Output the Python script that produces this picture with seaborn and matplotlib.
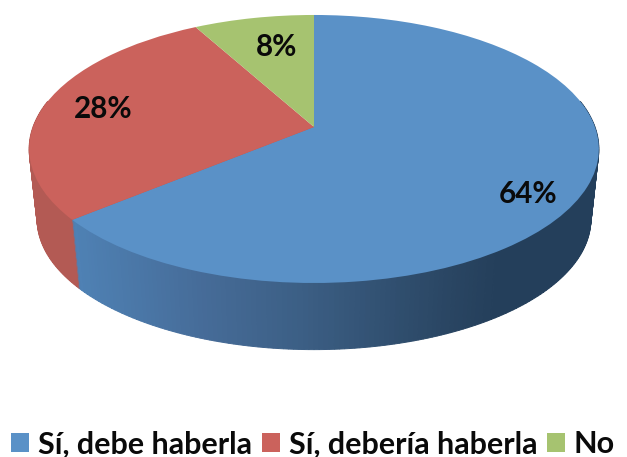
import numpy as np
import matplotlib
matplotlib.use("Agg")
import matplotlib.pyplot as plt
from matplotlib.colors import to_rgb
from matplotlib.transforms import Transform
import seaborn as sns

categories = ["Sí, debe haberla", "Sí, debería haberla", "No"]
shares = [64, 28, 8]
pct_labels = ["64%", "28%", "8%"]
top_colors = ["#5a91c7", "#cb625c", "#a6c370"]

# shading of the rim, going left to right in pixels
rim_x = [70, 200, 300, 450, 500]
rim_blue = ["#4f82b5", "#466c99", "#3c5f85", "#2a4663", "#243f5b"]
rim_red = ["#b35a54", "#b85d56", "#b85d56", "#b85d56", "#b85d56"]
rim_green = ["#8aa35c"] * 5
rim_colors = [rim_blue, rim_red, rim_green]

sns.set_style("white")
plt.rcParams["font.family"] = ["Lato", "DejaVu Sans"]
plt.rcParams["font.weight"] = "bold"


class Tilt(Transform):
    # flat unit circle to a tilted disc in pixels, far side smaller
    input_dims = 2
    output_dims = 2
    is_affine = False

    def __init__(self, depth=0.0):
        super().__init__()
        self.scale = 1 - 0.028 * depth
        self.cy = 127 + 71 * depth

    def transform_non_affine(self, values):
        values = np.asarray(values, dtype=float)
        w = 1 + 0.164 * values[:, 1]
        px = 314 + 281 * self.scale * values[:, 0] / w
        py = self.cy - 130.4 * self.scale * values[:, 1] / w
        return np.column_stack([px, py])


fig = plt.figure(figsize=(6.27, 4.57), dpi=100)
ax = fig.add_axes([0, 0, 1, 1])

# rim: thin slices of the same shares, stacked from the bottom up
fine_values = []
fine_colors = []
fine_mid = []
start = 0.0
total = sum(shares)
for share, stops in zip(shares, rim_colors):
    n = max(6, int(share * 4))
    rgb = np.array([to_rgb(c) for c in stops])
    for i in range(n):
        frac = (start + share * (i + 0.5) / n) / total
        angle = np.pi / 2 - 2 * np.pi * frac
        x, y = np.cos(angle), np.sin(angle)
        px = 314 + 281 * x / (1 + 0.164 * y)
        fine_values.append(share / n)
        fine_colors.append([np.interp(px, rim_x, rgb[:, k]) for k in range(3)])
        fine_mid.append(y)
    start += share

for depth in np.linspace(1, 0, 60):
    tilt = Tilt(depth)
    parts = ax.pie(fine_values, colors=fine_colors, startangle=90, counterclock=False,
                   wedgeprops={"linewidth": 0.7})[0]
    for wedge, mid, col in zip(parts, fine_mid, fine_colors):
        wedge.set_transform(tilt + ax.transData)
        wedge.set_edgecolor(col)
        if mid > 0.2:
            wedge.set_visible(False)

top = ax.pie(shares, colors=top_colors, startangle=90, counterclock=False,
             wedgeprops={"linewidth": 0})[0]
for wedge in top:
    wedge.set_transform(Tilt(0) + ax.transData)

ax.set_aspect("auto")
ax.set_xlim(0, 627)
ax.set_ylim(457, 0)
ax.axis("off")

label_pos = [(528, 194), (103, 109), (277, 47)]
for txt, (lx, ly) in zip(pct_labels, label_pos):
    ax.text(lx, ly, txt, ha="center", va="center", fontsize=21.3, fontweight="bold", color="#0a0a0a")

ax.legend(top, categories, ncol=3, loc="lower left", bbox_to_anchor=(0.008, -0.016),
          bbox_transform=ax.transAxes, frameon=False, fontsize=22,
          handlelength=0.58, handleheight=0.58, handletextpad=0.3, columnspacing=0.32,
          borderpad=0.2, borderaxespad=0, labelcolor="#0a0a0a")

fig.savefig("out.png", dpi=100)
